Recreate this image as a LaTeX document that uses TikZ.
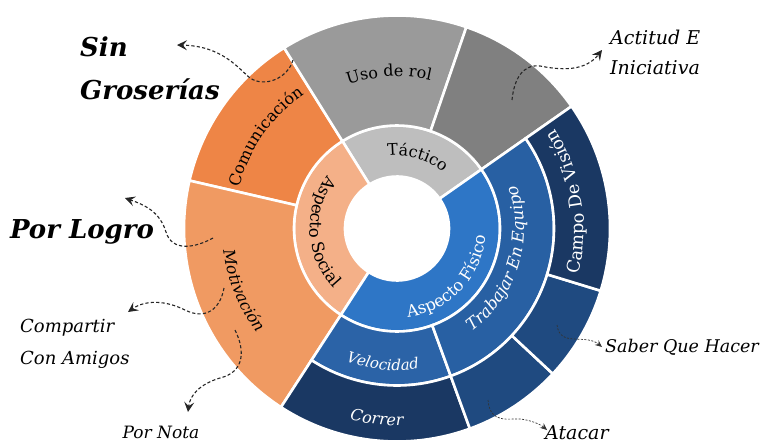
\documentclass[tikz,border=0pt]{standalone}
\usepackage{fontspec}
\setmainfont{DejaVu Serif}
\usetikzlibrary{decorations.text,arrows.meta}
\definecolor{cTac}{HTML}{BEBEBE}
\definecolor{cSoc}{HTML}{F4B088}
\definecolor{cFis}{HTML}{2E76C6}
\definecolor{cCom}{HTML}{EE8546}
\definecolor{cMot}{HTML}{F09A62}
\definecolor{cUso}{HTML}{9A9A9A}
\definecolor{cAct}{HTML}{808080}
\definecolor{cVel}{HTML}{2B63A7}
\definecolor{cTra}{HTML}{2860A3}
\definecolor{cDark}{HTML}{1A3863}
\definecolor{cMidB}{HTML}{1F4A80}
\tikzset{
  segline/.style={draw=white,line width=2.6pt,line join=miter},
  conn/.style={draw=black!85,line width=1.1pt,dash pattern=on 3.2pt off 2.2pt,-{Stealth[length=10pt,width=10pt,inset=4pt]}},
  connthin/.style={draw=black!80,line width=0.7pt,dash pattern=on 2pt off 1.5pt,-{Stealth[length=7pt,width=6pt,inset=2.5pt]}},
  outlbl/.style={inner sep=0pt,font=\itshape,text=black},
}
\newcommand\ringseg[5]{\filldraw[fill=#5,segline] (#1:#3) arc[start angle=#1,end angle=#2,radius=#3] -- (#2:#4) arc[start angle=#2,end angle=#1,radius=#4] -- cycle;}
\newcommand\arctext[5]{\path[decorate,decoration={text along path,text={|#4|#5},text align=center}] (#1:#3) arc[start angle=#1,end angle=#2,radius=#3];}
\begin{document}
\begin{tikzpicture}[x=1pt,y=1pt]
\useasboundingbox (0,0) rectangle (765,-444);
\begin{scope}[shift={(397,-228.5)}]
  % inner ring
  \ringseg{35}{122}{52}{103}{cTac}
  \ringseg{122}{237}{52}{103}{cSoc}
  \ringseg{237}{395}{52}{103}{cFis}
  % social children
  \ringseg{122}{167}{103}{213}{cCom}
  \ringseg{167}{237}{103}{213}{cMot}
  % tactical children
  \ringseg{71}{122}{103}{213}{cUso}
  \ringseg{35}{71}{103}{213}{cAct}
  % physical children
  \ringseg{237}{290}{103}{157}{cVel}
  \ringseg{290}{395}{103}{157}{cTra}
  \ringseg{237}{290}{157}{213}{cDark}
  \ringseg{290}{317}{157}{213}{cMidB}
  \ringseg{317}{343}{157}{213}{cMidB}
  \ringseg{343}{395}{157}{213}{cDark}
  % curved labels
  \arctext{124}{24}{73}{\fontsize{16}{20}\selectfont}{Táctico}
  \arctext{115}{251}{87}{\fontsize{16.5}{20}\selectfont}{Aspecto Social}
  \arctext{231}{401}{89}{\fontsize{16.5}{20}\selectfont\color{white}}{Aspecto Físico}
  \arctext{195}{95}{163}{\fontsize{16}{20}\selectfont}{Comunicación}
  \arctext{152}{252}{175}{\fontsize{16}{20}\selectfont\itshape}{Motivación}
  \arctext{143}{43}{152}{\fontsize{16}{20}\selectfont}{Uso de rol}
  \arctext{214}{314}{142}{\fontsize{15}{20}\selectfont\itshape\color{white}}{Velocidad}
  \arctext{214}{314}{197}{\fontsize{16}{20}\selectfont\itshape\color{white}}{Correr}
  \arctext{283}{403}{127}{\fontsize{16.5}{20}\selectfont\itshape\color{white}}{Trabajar En Equipo}
  \arctext{319}{419}{187}{\fontsize{17.5}{20}\selectfont\color{white}}{Campo De Visión}
\end{scope}
% outside labels
\node[outlbl,anchor=west,align=left,font=\bfseries\itshape\fontsize{26}{43}\selectfont] (sin) at (80,-68.5) {Sin\\Groserías};
\node[outlbl,font=\bfseries\itshape\fontsize{26}{30}\selectfont] (logro) at (82,-232) {Por Logro};
\node[outlbl,anchor=west,align=left,font=\itshape\fontsize{18}{32}\selectfont] (amigos) at (20,-344) {Compartir\\Con Amigos};
\node[outlbl,font=\itshape\fontsize{17}{20}\selectfont] (nota) at (161,-432) {Por Nota};
\node[outlbl,anchor=west,align=left,font=\itshape\fontsize{19}{30}\selectfont] (actitud) at (610,-52) {Actitud E\\Iniciativa};
\node[outlbl,anchor=west,font=\itshape\fontsize{17.5}{24}\selectfont] (saber) at (605,-347) {Saber Que Hacer};
\node[outlbl,anchor=west,font=\itshape\fontsize{19}{24}\selectfont] (atacar) at (545,-433) {Atacar};
% connector ends
\coordinate (s1) at (293,-60);  \coordinate (t1) at (177,-45);
\coordinate (s2) at (512,-100); \coordinate (t2) at (602,-50);
\coordinate (s3) at (213,-238); \coordinate (t3) at (125,-198);
\coordinate (s4) at (224,-288); \coordinate (t4) at (128,-312);
\coordinate (s5) at (235,-330); \coordinate (t5) at (188,-412);
\coordinate (s6) at (557,-325); \coordinate (t6) at (602,-347);
\coordinate (s7) at (488,-400); \coordinate (t7) at (547,-430);
\draw[conn] (s1) .. controls (288,-78) and (265,-88) .. (250,-78) .. controls (238,-68) and (222,-46) .. (t1);
\draw[conn] (s2) .. controls (514,-80) and (522,-64) .. (540,-66) .. controls (560,-70) and (585,-72) .. (t2);
\draw[conn] (s3) .. controls (195,-248) and (172,-252) .. (166,-232) .. controls (160,-212) and (145,-205) .. (t3);
\draw[conn] (s4) .. controls (220,-310) and (205,-320) .. (185,-310) .. controls (165,-300) and (145,-300) .. (t4);
\draw[conn] (s5) .. controls (245,-350) and (245,-372) .. (220,-378) .. controls (200,-384) and (190,-395) .. (t5);
\draw[connthin] (s6) .. controls (560,-348) and (585,-333) .. (t6);
\draw[connthin] (s7) .. controls (490,-425) and (510,-418) .. (520,-419) .. controls (530,-420) and (540,-424) .. (t7);
\end{tikzpicture}
\end{document}
